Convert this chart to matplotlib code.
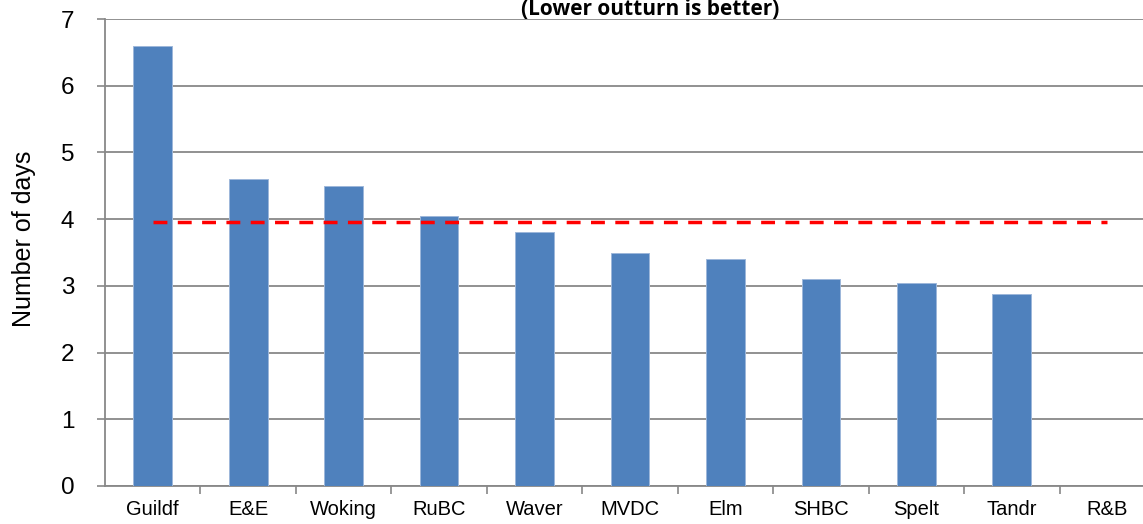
import matplotlib
matplotlib.use("Agg")
import matplotlib.pyplot as plt
import numpy as np

# data
councils = ["Guildf", "E&E", "Woking", "RuBC", "Waver", "MVDC", "Elm", "SHBC", "Spelt", "Tandr", "R&B"]
days = [6.60, 4.60, 4.50, 4.05, 3.80, 3.49, 3.40, 3.10, 3.04, 2.88, np.nan]
average = 3.95
yticks = [0, 1, 2, 3, 4, 5, 6, 7]

BAR_BLUE = "#4F81BD"
GRID_GREY = "#888888"

plt.rcParams["font.family"] = ["Liberation Sans", "DejaVu Sans"]

fig = plt.figure(figsize=(11.43, 5.24), dpi=100)
# axes runs a little past the right edge, as in the cropped original
ax = fig.add_axes([105 / 1143, 38 / 524, 1050 / 1143, 467 / 524])

x = np.arange(len(councils))
ax.bar(x, days, width=0.405, color=BAR_BLUE, edgecolor="#9DB7DA", linewidth=0.7, zorder=3)

# average line across the categories
ax.plot([x[0], x[-1]], [average, average], color="red", lw=2.5,
        dashes=(4, 3), zorder=4, dash_capstyle="butt")

ax.set_xlim(-0.5, len(councils) - 0.5)
ax.set_ylim(0, 7)
ax.set_yticks(yticks)
ax.set_xticks(x + 0.5, minor=False)
ax.set_xticklabels([])
ax.set_xticks(x, minor=True)
ax.set_xticklabels(councils, minor=True, fontsize=14.5)
ax.tick_params(axis="x", which="minor", length=0, pad=10)
ax.tick_params(axis="x", which="major", length=6, width=1.2, color=GRID_GREY, direction="out")
ax.tick_params(axis="y", length=6, width=1.2, color=GRID_GREY, direction="out", labelsize=17.5, pad=16)

ax.grid(axis="y", color=GRID_GREY, lw=1.3, zorder=0)
ax.set_axisbelow(True)
for side in ["top", "right"]:
    ax.spines[side].set_visible(False)
for side in ["left", "bottom"]:
    ax.spines[side].set_color(GRID_GREY)
    ax.spines[side].set_linewidth(1.3)

fig.text(24 / 1143, 1 - 239 / 524, "Number of days", rotation=90,
         ha="center", va="center", fontsize=18)

# title: only its lower line is visible at the top of the original
fig.text(650 / 1143, 1 - 15 / 524, "(Lower outturn is better)", ha="center", va="baseline",
         fontsize=15, fontweight="bold", family=["Open Sans", "DejaVu Sans"])

fig.savefig("out.png", dpi=100)
